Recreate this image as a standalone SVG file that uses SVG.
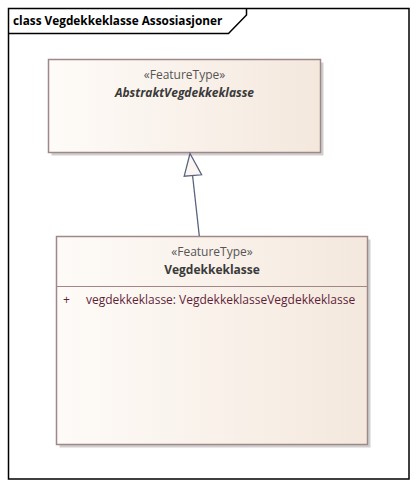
<svg xmlns="http://www.w3.org/2000/svg" width="418" height="487" viewBox="0 0 418 487">
<defs>
<linearGradient id="fill" x1="0" y1="0" x2="1" y2="0">
<stop offset="0" stop-color="#FEFBF8"/>
<stop offset="1" stop-color="#F4E8DD"/>
</linearGradient>
<style>
.frame{fill:none;stroke:#000;stroke-width:1.5}
.shadow{fill:#CFCFCF}
.box{fill:url(#fill);stroke:#A08888;stroke-width:1.5}
.div{stroke:#A08888;stroke-width:1.2}
.t{font-family:"Open Sans","Noto Sans","DejaVu Sans",sans-serif;font-size:12px}
.st{fill:#555;text-anchor:middle}
.nm{fill:#3a3a3a;font-weight:bold;text-anchor:middle}
.at{fill:#5E1F3A}
.edge{fill:none;stroke:#5A6480;stroke-width:1.3}
.head{fill:#FBF6F2;stroke:#5A6480;stroke-width:1.3;stroke-linejoin:miter}
</style>
</defs>
<rect width="418" height="487" fill="#fff"/>
<g id="frame">
<rect class="frame" x="8.5" y="8.5" width="400.5" height="470.5"/>
<path class="frame" d="M8.5,33.5 H228.5 L246.5,15 V8.5"/>
<text class="t" x="13" y="25" style="font-weight:bold;fill:#000;font-size:11.8px">class Vegdekkeklasse Assosiasjoner</text>
</g>
<g id="AbstraktVegdekkeklasse">
<rect class="shadow" x="51.5" y="62.5" width="272" height="93"/>
<rect class="box" x="48.5" y="59.5" width="272" height="93"/>
<text class="t st" x="184.5" y="79">«FeatureType»</text>
<text class="t nm" x="184.5" y="97" font-style="italic">AbstraktVegdekkeklasse</text>
</g>
<g id="Vegdekkeklasse">
<rect class="shadow" x="59.5" y="239.5" width="311" height="208"/>
<rect class="box" x="56.5" y="236.5" width="311" height="208"/>
<line class="div" x1="56.5" y1="286.5" x2="367.5" y2="286.5"/>
<text class="t st" x="212" y="256">«FeatureType»</text>
<text class="t nm" x="212" y="274">Vegdekkeklasse</text>
<text class="t at" x="63" y="304">+</text>
<text class="t at" x="86" y="304">vegdekkeklasse: VegdekkeklasseVegdekkeklasse</text>
</g>
<g id="connectors">
<line class="edge" x1="199.3" y1="236" x2="192.6" y2="175.8"/>
<path class="head" d="M190,153.5 L201.6,174.8 L184.2,176.2 Z"/>
</g>
</svg>
